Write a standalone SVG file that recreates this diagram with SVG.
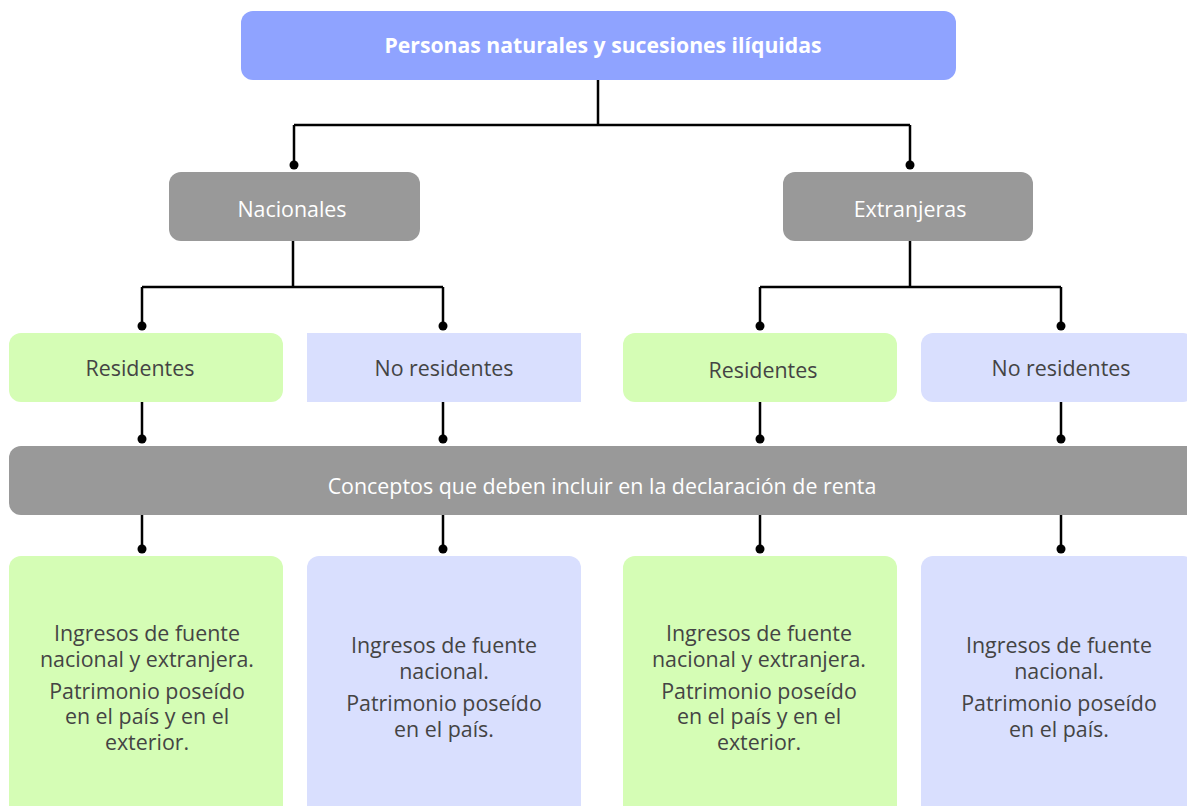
<svg xmlns="http://www.w3.org/2000/svg" width="1187" height="806" viewBox="0 0 1187 806">
<style>
.t{font-family:"Open Sans","Liberation Sans",sans-serif;font-size:21.4px;text-anchor:middle}
.w{fill:#ffffff}
.d{fill:#444444}
.b{font-weight:bold;font-size:21.2px}
.g{fill:#999999}
.gr{fill:#d5fdb5}
.lv{fill:#d9dffe}
.ln{stroke:#000;stroke-width:2.5;fill:none}
.dot{fill:#000}
</style>
<rect width="1187" height="806" fill="#ffffff"/>
<g id="connectors">
<path class="ln" d="M598 80V125M294 125H910M294 125V165M910 125V165"/>
<path class="ln" d="M293 241V287M142 287H443M142 287V326M443 287V326"/>
<path class="ln" d="M910 241V287M760 287H1061M760 287V326M1061 287V326"/>
<path class="ln" d="M142 402V439M443 402V439M760 402V439M1061 402V439"/>
<path class="ln" d="M142 515V549M443 515V549M760 515V549M1061 515V549"/>
<circle class="dot" cx="294" cy="165" r="4.5"/><circle class="dot" cx="910" cy="165" r="4.5"/>
<circle class="dot" cx="142" cy="326" r="4.5"/><circle class="dot" cx="443" cy="326" r="4.5"/>
<circle class="dot" cx="760" cy="326" r="4.5"/><circle class="dot" cx="1061" cy="326" r="4.5"/>
<circle class="dot" cx="142" cy="439" r="4.5"/><circle class="dot" cx="443" cy="439" r="4.5"/>
<circle class="dot" cx="760" cy="439" r="4.5"/><circle class="dot" cx="1061" cy="439" r="4.5"/>
<circle class="dot" cx="142" cy="549" r="4.5"/><circle class="dot" cx="443" cy="549" r="4.5"/>
<circle class="dot" cx="760" cy="549" r="4.5"/><circle class="dot" cx="1061" cy="549" r="4.5"/>
</g>
<g id="top"><rect x="241" y="11" width="715" height="69" rx="12" fill="#8fa3ff"/><text class="t w b" x="603" y="53">Personas naturales y sucesiones ilíquidas</text></g>
<g id="nacionales"><rect class="g" x="169" y="172" width="251" height="69" rx="12"/><text class="t w" x="292" y="217">Nacionales</text></g>
<g id="extranjeras"><rect class="g" x="783" y="172" width="250" height="69" rx="12"/><text class="t w" x="910" y="217">Extranjeras</text></g>
<g id="res1"><rect class="gr" x="9" y="333" width="274" height="69" rx="12"/><text class="t d" x="140" y="376">Residentes</text></g>
<g id="nores1"><rect class="lv" x="307" y="333" width="274" height="69"/><text class="t d" x="444" y="376">No residentes</text></g>
<g id="res2"><rect class="gr" x="623" y="333" width="274" height="69" rx="12"/><text class="t d" x="763" y="378">Residentes</text></g>
<g id="nores2"><rect class="lv" x="921" y="333" width="274" height="69" rx="12"/><text class="t d" x="1061" y="376">No residentes</text></g>
<g id="conceptos"><rect class="g" x="9" y="446" width="1190" height="69" rx="12"/><text class="t w" x="602" y="494">Conceptos que deben incluir en la declaración de renta</text></g>
<g id="c1"><rect class="gr" x="9" y="556" width="274" height="270" rx="12"/>
<text class="t d" x="147"><tspan x="147" y="641">Ingresos de fuente</tspan><tspan x="147" y="667">nacional y extranjera.</tspan><tspan x="147" y="699">Patrimonio poseído</tspan><tspan x="147" y="724">en el país y en el</tspan><tspan x="147" y="750">exterior.</tspan></text></g>
<g id="c2"><rect class="lv" x="307" y="556" width="274" height="270" rx="12"/>
<text class="t d" x="444"><tspan x="444" y="653">Ingresos de fuente</tspan><tspan x="444" y="679">nacional.</tspan><tspan x="444" y="711">Patrimonio poseído</tspan><tspan x="444" y="737">en el país.</tspan></text></g>
<g id="c3"><rect class="gr" x="623" y="556" width="274" height="270" rx="12"/>
<text class="t d" x="759"><tspan x="759" y="641">Ingresos de fuente</tspan><tspan x="759" y="667">nacional y extranjera.</tspan><tspan x="759" y="699">Patrimonio poseído</tspan><tspan x="759" y="724">en el país y en el</tspan><tspan x="759" y="750">exterior.</tspan></text></g>
<g id="c4"><rect class="lv" x="921" y="556" width="274" height="270" rx="12"/>
<text class="t d" x="1059"><tspan x="1059" y="653">Ingresos de fuente</tspan><tspan x="1059" y="679">nacional.</tspan><tspan x="1059" y="711">Patrimonio poseído</tspan><tspan x="1059" y="737">en el país.</tspan></text></g>
</svg>
